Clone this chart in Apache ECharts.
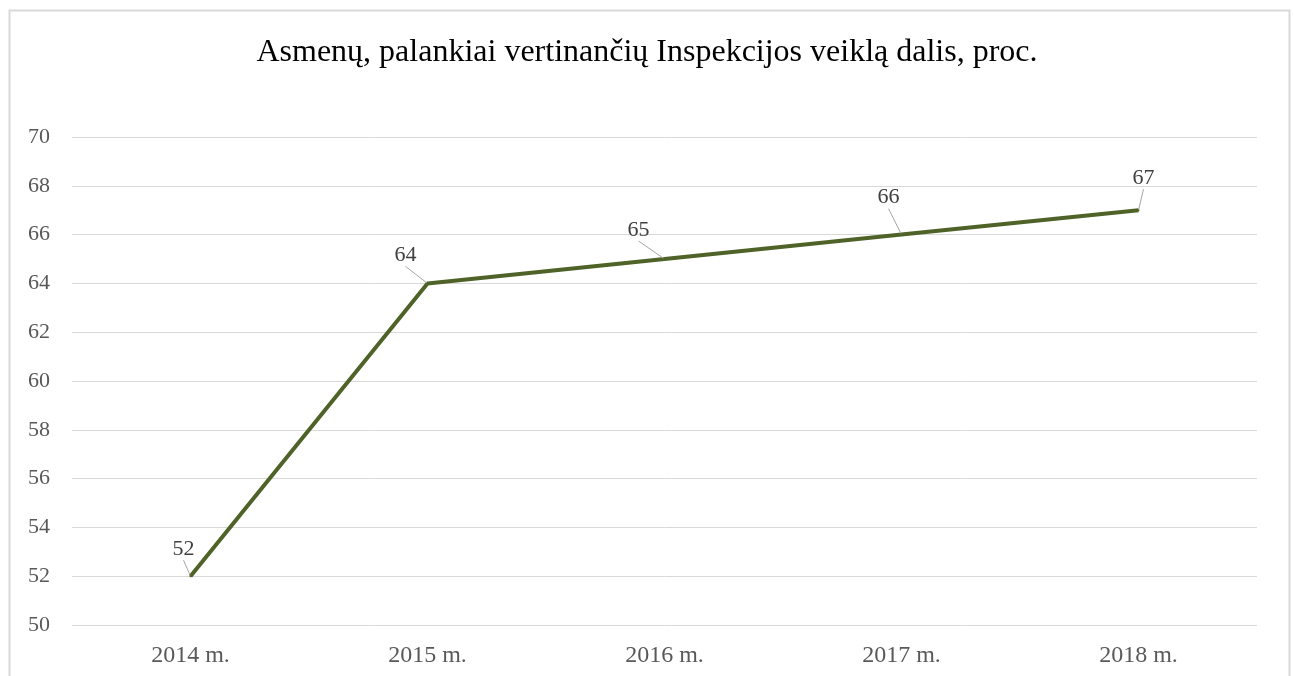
<!DOCTYPE html>
<html>
  <head>
    <meta charset="UTF-8">
    <script src="https://cdn.jsdelivr.net/npm/echarts@6/dist/echarts.min.js"></script>
    <title>Asmenų dalis</title>
  </head>
  <body style="margin:0;">
    <div id="main" style="width:1294px;height:676px;"></div>
  </body>
  <script>
var years = ['2014 m.', '2015 m.', '2016 m.', '2017 m.', '2018 m.'];
var shares = [52, 64, 65, 66, 67];
var yTicks = [50, 52, 54, 56, 58, 60, 62, 64, 66, 68, 70];

// where each value label is pushed away from its point (as in the original)
var labelShift = [[-7, -10], [-22, -11], [-26, -12], [-13, -20], [5, -15]];

var chart = echarts.init(document.getElementById('main'));

var option = {
    backgroundColor: '#fff',
    animation: false,
    title: {
        text: 'Asmenų, palankiai vertinančių Inspekcijos veiklą dalis, proc.',
        left: 'center',
        top: 32,
        textStyle: {
            fontFamily: 'Liberation Serif',
            fontSize: 32,
            fontWeight: 'normal',
            color: '#000'
        }
    },
    graphic: [{
        type: 'rect',
        left: 7,
        top: 8,
        shape: {width: 1280, height: 700},
        style: {fill: 'none', stroke: '#d9d9d9', lineWidth: 2},
        silent: true
    }],
    grid: {left: 72, right: 37, top: 137, bottom: 51},
    xAxis: {
        type: 'category',
        data: years,
        boundaryGap: true,
        axisLine: {show: false},
        axisTick: {show: false},
        axisLabel: {
            margin: 19,
            fontFamily: 'Liberation Serif',
            fontSize: 24,
            color: '#595959'
        }
    },
    yAxis: {
        type: 'value',
        min: yTicks[0],
        max: yTicks[yTicks.length - 1],
        interval: 2,
        axisLine: {show: false},
        axisTick: {show: false},
        splitLine: {lineStyle: {color: '#d9d9d9', width: 1}},
        axisLabel: {
            margin: 22,
            fontFamily: 'Liberation Serif',
            fontSize: 22,
            color: '#595959'
        }
    },
    series: [{
        type: 'line',
        data: shares,
        symbol: 'circle',
        symbolSize: 2,
        itemStyle: {color: '#4f6228'},
        lineStyle: {color: '#4f6228', width: 4},
        label: {
            show: true,
            position: 'top',
            fontFamily: 'Liberation Serif',
            fontSize: 22,
            color: '#404040'
        },
        labelLine: {
            show: true,
            lineStyle: {color: '#a6a6a6', width: 1}
        },
        labelLayout: function (params) {
            var s = labelShift[params.dataIndex];
            return {dx: s[0], dy: s[1]};
        }
    }]
};

chart.setOption(option);
  </script>
</html>
